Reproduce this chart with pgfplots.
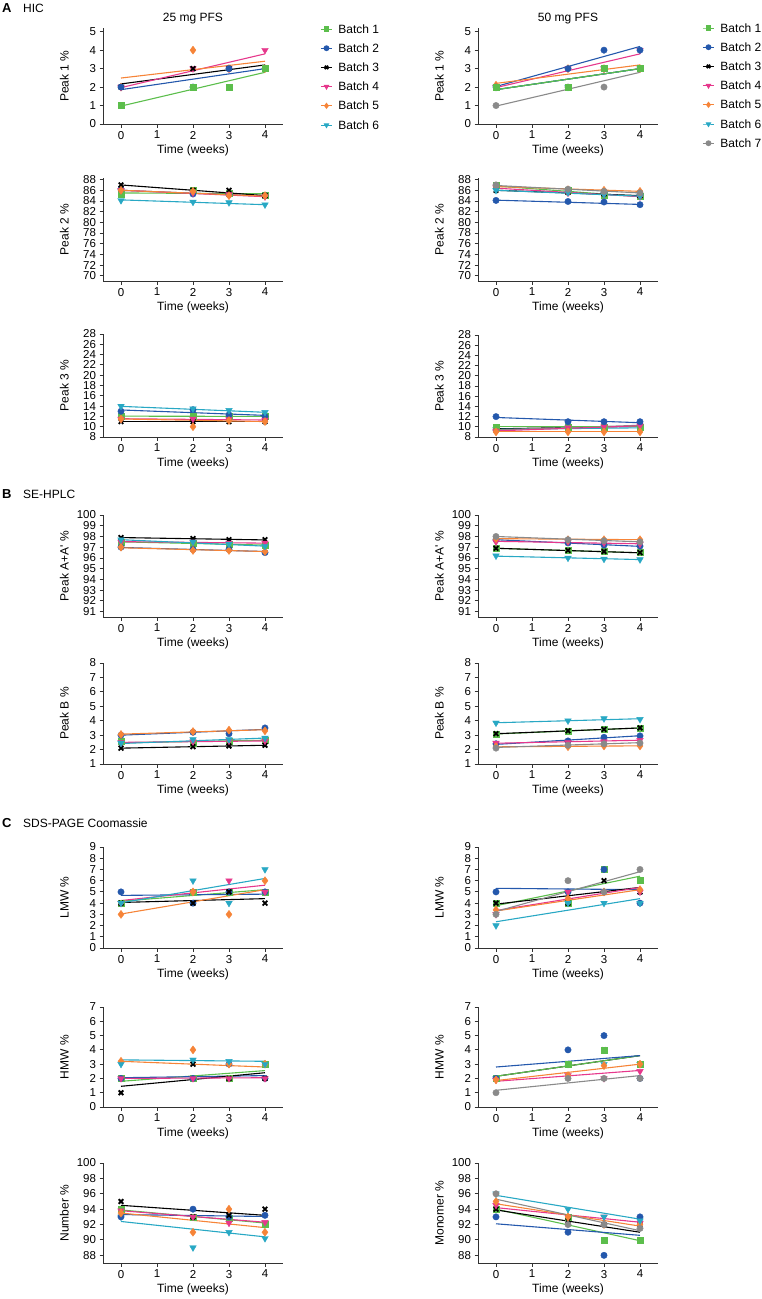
\documentclass[border=0pt]{standalone}
\usepackage{fontspec}
\setmainfont{Liberation Sans}
\usepackage{pgfplots}
\usepackage{pgfplotstable}
\pgfplotsset{compat=1.18}

\definecolor{cB1}{RGB}{92,190,76}
\definecolor{cB2}{RGB}{36,88,172}
\definecolor{cB4}{RGB}{230,56,140}
\definecolor{cB5}{RGB}{246,132,56}
\definecolor{cB6}{RGB}{40,168,196}
\definecolor{cB7}{RGB}{138,138,138}
\definecolor{axisgray}{RGB}{50,50,50}

% ---------- data: points (t = 0,2,3,4) and fitted lines (t = 0,4) ----------
\pgfplotstableread{
t b1 b2 b3 b4 b5
0 1 2 2 2 2
2 2 2 3 3 4
3 2 3 3 3 3
4 3 3 3 4 3
}\DaL
\pgfplotstableread{
t b1 b2 b3 b4 b5
0 0.97 1.86 2.17 1.97 2.49
4 2.8 3.0 3.2 3.8 3.4
}\LaL
\pgfplotstableread{
t b1 b2 b3 b4 b5 b6 b7
0 2 2 2 2 2.1 2 1
2 2 3 2 3 3 2 2
3 3 4 3 3 3 3 2
4 3 4 3 4 3 3 3
}\DaR
\pgfplotstableread{
t b1 b2 b3 b4 b5 b6 b7
0 1.86 2.03 1.86 1.97 2.2 1.86 0.97
4 3.0 4.2 3.0 3.8 3.2 3.0 2.8
}\LaR

\pgfplotstableread{
t b1 b2 b3 b4 b5 b6
0 85.2 86.2 87 86 86 84.1
2 86 85.3 86 85.5 85.8 83.8
3 85.5 85.2 86 85.2 85 83.7
4 85 85 85 84.8 85 83.3
}\DbL
\pgfplotstableread{
t b1 b2 b3 b4 b5 b6
0 85.5 86 87 86 86 84.2
4 85.35 84.9 85 84.8 84.9 83.3
}\LbL
\pgfplotstableread{
t b1 b2 b3 b4 b5 b6 b7
0 86.9 84.1 86 86.5 86.8 86 87
2 86 83.9 85.6 85.5 86.1 85.6 86.2
3 85 83.8 85.3 85.2 86 85.2 85.8
4 84.8 83.3 85 84.8 85.8 84.9 85.5
}\DbR
\pgfplotstableread{
t b1 b2 b3 b4 b5 b6 b7
0 86.8 84.15 86 86.4 86.7 86 86.9
4 84.8 83.35 85 84.8 85.8 84.9 85.5
}\LbR

\pgfplotstableread{
t b1 b2 b3 b4 b5 b6
0 12 13 11 11.5 11.5 14
2 12.1 13.3 11 11.5 10 13.5
3 12 12.3 11 11.4 11.2 13.2
4 12 12 11 11.3 11 12.8
}\DcL
\pgfplotstableread{
t b1 b2 b3 b4 b5 b6
0 12.05 13.25 11 11.55 11.5 13.95
4 12.0 12.2 11 11.3 11.0 12.8
}\LcL
\pgfplotstableread{
t b1 b2 b3 b4 b5 b6 b7
0 10 12 9.5 9.2 9 9.5 9.3
2 10 11 10 9.8 9 9.6 10
3 10 11 10 10 9 9.7 10
4 10 11 10 10.2 9 9.8 10.3
}\DcR
\pgfplotstableread{
t b1 b2 b3 b4 b5 b6 b7
0 10 11.83 9.6 9.2 9 9.5 9.4
4 10 10.8 10.1 10.2 9 9.8 10.3
}\LcR

\pgfplotstableread{
t b1 b2 b3 b4 b5 b6
0 97.5 97 97.9 97.5 97 97.7
2 97.4 96.8 97.8 97.5 96.7 97.5
3 97.3 96.8 97.7 97.4 96.7 97.3
4 97.2 96.5 97.7 97.4 96.6 97.1
}\DdL
\pgfplotstableread{
t b1 b2 b3 b4 b5 b6
0 97.5 96.98 97.9 97.52 96.95 97.7
4 97.2 96.6 97.68 97.38 96.6 97.1
}\LdL
\pgfplotstableread{
t b1 b2 b3 b4 b5 b6 b7
0 96.9 97.7 96.9 97.5 97.8 96.2 98
2 96.7 97.4 96.7 97.5 97.7 96 97.7
3 96.6 97.2 96.6 97.4 97.7 95.9 97.6
4 96.5 97.1 96.5 97.3 97.7 95.85 97.5
}\DdR
\pgfplotstableread{
t b1 b2 b3 b4 b5 b6 b7
0 96.9 97.7 96.9 97.55 97.8 96.17 98
4 96.48 97.08 96.48 97.32 97.7 95.85 97.5
}\LdR

\pgfplotstableread{
t b1 b2 b3 b4 b5 b6
0 2.55 3 2.1 2.5 3.05 2.45
2 2.45 3.2 2.2 2.55 3.25 2.7
3 2.55 3.1 2.25 2.6 3.35 2.7
4 2.65 3.5 2.3 2.6 3.3 2.8
}\DeL
\pgfplotstableread{
t b1 b2 b3 b4 b5 b6
0 2.47 3.0 2.1 2.5 3.07 2.42
4 2.65 3.4 2.3 2.6 3.38 2.8
}\LeL
\pgfplotstableread{
t b1 b2 b3 b4 b5 b6 b7
0 3.1 2.4 3.1 2.45 2.2 3.85 2.1
2 3.25 2.6 3.3 2.5 2.2 4 2.3
3 3.4 2.85 3.4 2.55 2.25 4.15 2.4
4 3.5 2.95 3.5 2.65 2.25 4.1 2.45
}\DeR
\pgfplotstableread{
t b1 b2 b3 b4 b5 b6 b7
0 3.08 2.36 3.1 2.44 2.19 3.86 2.15
4 3.5 2.96 3.5 2.65 2.26 4.14 2.48
}\LeR

\pgfplotstableread{
t b1 b2 b3 b4 b5 b6
0 4 5 4 4 3 4
2 5 4 4 5 5 6
3 5 5 5 6 3 4
4 5 5 4 5 6 7
}\DfL
\pgfplotstableread{
t b1 b2 b3 b4 b5 b6
0 4.17 4.69 4.06 4.23 3.03 4.03
4 5.2 4.8 4.4 5.6 5.2 6.2
}\LfL
\pgfplotstableread{
t b1 b2 b3 b4 b5 b6 b7
0 4 5 4 3 3.4 2 3
2 4 5 4 5 4.4 4 6
3 7 7 6 5 5 4 5
4 6 4 5 5 5.2 4 7
}\DfR
\pgfplotstableread{
t b1 b2 b3 b4 b5 b6 b7
0 3.77 5.32 3.91 3.34 3.3 2.34 3.26
4 6.4 5.2 5.4 5.4 5.2 4.4 6.8
}\LfR

\pgfplotstableread{
t b1 b2 b3 b4 b5 b6
0 2 2 1 2 3.2 3
2 2 2 3 2 4 3.3
3 2 3 2 2 3 3.2
4 3 2 2 2 3 3
}\DgL
\pgfplotstableread{
t b1 b2 b3 b4 b5 b6
0 1.8 2.05 1.45 2.0 3.2 3.3
4 2.55 2.2 2.4 2.05 2.8 3.2
}\LgL
\pgfplotstableread{
t b1 b2 b3 b4 b5 b6 b7
0 2 2 2 1.9 1.9 2 1
2 3 4 3 2.2 2.2 3 2
3 4 5 4 2 2.9 3 2
4 3 2 3 2.5 3 3 2
}\DgR
\pgfplotstableread{
t b1 b2 b3 b4 b5 b6 b7
0 2.15 2.8 2.15 1.8 1.85 2.15 1.17
4 3.6 3.6 3.6 2.56 3.0 3.6 2.2
}\LgR

\pgfplotstableread{
t b1 b2 b3 b4 b5 b6
0 94 93 95 93.8 93.5 93
2 93 94 93 93 91 89
3 92.8 93 93.2 92.2 94 91
4 92.1 93.2 94 92.3 91 90.2
}\DhL
\pgfplotstableread{
t b1 b2 b3 b4 b5 b6
0 93.9 93.3 94.5 93.8 93.5 92.4
4 92.2 93.05 93.2 92.3 91.6 90.4
}\LhL
\pgfplotstableread{
t b1 b2 b3 b4 b5 b6 b7
0 94 93 94 94.5 95 96 96
2 93 91 92.5 93 93 94 92
3 90 88 92 93 92 93 92
4 90 93 92 92.2 92 92.5 91.5
}\DhR
\pgfplotstableread{
t b1 b2 b3 b4 b5 b6 b7
0 94 92.1 93.9 94.2 94.7 95.8 95.3
4 89.9 90.6 91 92.3 91.8 92.7 91.2
}\LhR

% ---------- styles ----------
\pgfplotsset{
  b1/.style={color=cB1, mark=square*, mark size=3pt},
  b2/.style={color=cB2, mark=*, mark size=3.2pt},
  b3/.style={color=black, mark=x, mark size=3.3pt, mark options={line width=1.8pt}},
  b4/.style={color=cB4, mark=triangle*, mark size=3.8pt, mark options={rotate=180}},
  b5/.style={color=cB5, mark=diamond*, mark size=4pt},
  b6/.style={color=cB6, mark=triangle*, mark size=3.8pt, mark options={rotate=180}},
  b7/.style={color=cB7, mark=*, mark size=3.2pt},
  panel/.style={
    scale only axis, width=180pt, anchor=south west,
    xmin=-0.5, xmax=4.5, xtick={0,1,2,3,4},
    axis x line*=bottom, axis y line*=left,
    x axis line style={-}, y axis line style={-},
    axis line style={line width=0.9pt, draw=axisgray},
    tick style={line width=0.9pt, draw=axisgray},
    tick align=outside, major tick length=3.5pt,
    /pgf/number format/assume math mode=true,
    ticklabel style={font=\fontsize{11.5}{12}\selectfont},
    xlabel={Time (weeks)},
    xlabel style={at={([yshift=-21pt]axis description cs:0.5,0)}, anchor=north, inner sep=0pt, font=\fontsize{12}{14}\selectfont},
    ylabel style={at={([xshift=-34pt]axis description cs:0,0.5)}, anchor=south, inner sep=0pt, font=\fontsize{12}{14}\selectfont},
    clip=false,
  },
  leg/.style={
    legend style={at={(axis description cs:#1)}, anchor=north west, draw=none, fill=none,
      inner sep=0pt, outer sep=0pt, row sep=7.2pt, column sep=6pt,
      font=\fontsize{12}{14}\selectfont,
      nodes={inner sep=0pt, text height=10pt, text depth=2pt}},
    legend cell align=left,
    legend image code/.code={\draw[mark repeat=2,mark phase=2] plot coordinates {(0pt,0pt) (5.5pt,0pt) (11pt,0pt)};},
  },
}

\newcommand{\drawbatches}[4]{%
  \pgfplotsinvokeforeach{#4}{%
    \addplot[b##1, no marks, line width=1.1pt, forget plot] table[x=t, y=b##1] {#2};
  }%
  \pgfplotsinvokeforeach{#3}{%
    \addplot[b##1, only marks, forget plot] table[x=t, y=b##1] {#1};
  }%
}

\newcommand{\legimgs}[1]{%
  \pgfplotsinvokeforeach{#1}{\addlegendimage{b##1, line width=1pt, mark size=2.4pt}}%
}

\begin{document}
\begin{tikzpicture}
\path[use as bounding box] (0,0) rectangle (762pt,-1299pt);

% section labels and titles
\node[anchor=base west, inner sep=0pt, font=\bfseries\fontsize{13}{14}\selectfont] at (2pt,-12pt) {A};
\node[anchor=base west, inner sep=0pt, font=\fontsize{12}{14}\selectfont] at (23pt,-12pt) {HIC};
\node[anchor=base west, inner sep=0pt, font=\bfseries\fontsize{13}{14}\selectfont] at (2pt,-498pt) {B};
\node[anchor=base west, inner sep=0pt, font=\fontsize{12}{14}\selectfont] at (23pt,-498pt) {SE-HPLC};
\node[anchor=base west, inner sep=0pt, font=\bfseries\fontsize{13}{14}\selectfont] at (2pt,-827pt) {C};
\node[anchor=base west, inner sep=0pt, font=\fontsize{12}{14}\selectfont] at (23pt,-827pt) {SDS-PAGE Coomassie};
\node[anchor=base, inner sep=0pt, font=\fontsize{12}{14}\selectfont] at (193pt,-21pt) {25 mg PFS};
\node[anchor=base, inner sep=0pt, font=\fontsize{12}{14}\selectfont] at (568pt,-21pt) {50 mg PFS};

% ---- row a: Peak 1 ----
\begin{axis}[panel, at={(103pt,-124pt)}, height=96pt, ymin=0, ymax=5.2, ytick={0,1,2,3,4,5},
  ylabel={Peak 1 \%}, leg={1.2083,1.052}]
\legimgs{1,2,3,4,5,6}
\drawbatches{\DaL}{\LaL}{5,4,3,2,1}{1,2,3,4,5}
\legend{Batch 1,Batch 2,Batch 3,Batch 4,Batch 5,Batch 6}
\end{axis}
\begin{axis}[panel, at={(478pt,-124pt)}, height=96pt, ymin=0, ymax=5.2, ytick={0,1,2,3,4,5},
  ylabel={Peak 1 \%}, leg={1.2472,1.0625}]
\legimgs{1,2,3,4,5,6,7}
\drawbatches{\DaR}{\LaR}{3,6,4,5,7,2,1}{3,6,1,2,4,5,7}
\legend{Batch 1,Batch 2,Batch 3,Batch 4,Batch 5,Batch 6,Batch 7}
\end{axis}

% ---- row b: Peak 2 ----
\begin{axis}[panel, at={(103pt,-281pt)}, height=103pt, ymin=69, ymax=88.3, ytick={70,72,...,88},
  ylabel={Peak 2 \%}]
\drawbatches{\DbL}{\LbL}{1,2,3,4,5,6}{1,2,3,4,5,6}
\end{axis}
\begin{axis}[panel, at={(478pt,-281pt)}, height=103pt, ymin=69, ymax=88.3, ytick={70,72,...,88},
  ylabel={Peak 2 \%}]
\drawbatches{\DbR}{\LbR}{1,2,3,4,5,6,7}{1,2,3,4,5,6,7}
\end{axis}

% ---- row c: Peak 3 ----
\begin{axis}[panel, at={(103pt,-437pt)}, height=103pt, ymin=8, ymax=28, ytick={8,10,...,28},
  ylabel={Peak 3 \%}]
\drawbatches{\DcL}{\LcL}{1,2,3,4,5,6}{1,2,3,4,5,6}
\end{axis}
\begin{axis}[panel, at={(478pt,-437pt)}, height=102pt, ymin=8, ymax=28, ytick={8,10,...,28},
  ylabel={Peak 3 \%}]
\drawbatches{\DcR}{\LcR}{3,6,7,1,4,5,2}{3,6,7,1,4,5,2}
\end{axis}

% ---- row d: Peak A+A' ----
\begin{axis}[panel, at={(103pt,-617pt)}, height=102pt, ymin=90.5, ymax=100, ytick={91,92,...,100},
  ylabel={Peak A+A\textquotesingle\ \%}]
\drawbatches{\DdL}{\LdL}{1,2,3,4,5,6}{1,2,3,4,5,6}
\end{axis}
\begin{axis}[panel, at={(478pt,-617pt)}, height=102pt, ymin=90.5, ymax=100, ytick={91,92,...,100},
  ylabel={Peak A+A\textquotesingle\ \%}]
\drawbatches{\DdR}{\LdR}{1,2,3,4,5,6,7}{1,2,3,4,5,6,7}
\end{axis}

% ---- row e: Peak B ----
\begin{axis}[panel, at={(103pt,-764pt)}, height=101pt, ymin=1, ymax=8, ytick={1,2,...,8},
  ylabel={Peak B \%}]
\drawbatches{\DeL}{\LeL}{1,2,3,4,5,6}{1,2,3,4,5,6}
\end{axis}
\begin{axis}[panel, at={(478pt,-764pt)}, height=101pt, ymin=1, ymax=8, ytick={1,2,...,8},
  ylabel={Peak B \%}]
\drawbatches{\DeR}{\LeR}{1,2,3,4,5,6,7}{1,2,3,4,5,6,7}
\end{axis}

% ---- row f: LMW ----
\begin{axis}[panel, at={(103pt,-948pt)}, height=101pt, ymin=0, ymax=9, ytick={0,1,...,9},
  ylabel={LMW \%}]
\drawbatches{\DfL}{\LfL}{1,2,3,4,5,6}{1,2,3,4,5,6}
\end{axis}
\begin{axis}[panel, at={(478pt,-948pt)}, height=101pt, ymin=0, ymax=9, ytick={0,1,...,9},
  ylabel={LMW \%}]
\drawbatches{\DfR}{\LfR}{1,2,3,4,5,6,7}{1,2,3,4,5,6,7}
\end{axis}

% ---- row g: HMW ----
\begin{axis}[panel, at={(103pt,-1107pt)}, height=100pt, ymin=0, ymax=7, ytick={0,1,...,7},
  ylabel={HMW \%}]
\drawbatches{\DgL}{\LgL}{1,2,3,4,5,6}{1,2,3,4,5,6}
\end{axis}
\begin{axis}[panel, at={(478pt,-1107pt)}, height=100pt, ymin=0, ymax=7, ytick={0,1,...,7},
  ylabel={HMW \%}]
\drawbatches{\DgR}{\LgR}{6,3,1,2,4,5,7}{3,1,2,4,5,7}
\end{axis}

% ---- row h: Number / Monomer ----
\begin{axis}[panel, at={(103pt,-1263pt)}, height=100pt, ymin=87, ymax=100, ytick={88,90,...,100},
  ylabel={Number \%}]
\drawbatches{\DhL}{\LhL}{6,1,2,3,4,5}{1,2,3,4,5,6}
\end{axis}
\begin{axis}[panel, at={(478pt,-1263pt)}, height=100pt, ymin=87, ymax=100, ytick={88,90,...,100},
  ylabel={Monomer \%}]
\drawbatches{\DhR}{\LhR}{1,2,3,4,5,6,7}{1,2,3,4,5,6,7}
\end{axis}

\end{tikzpicture}
\end{document}
